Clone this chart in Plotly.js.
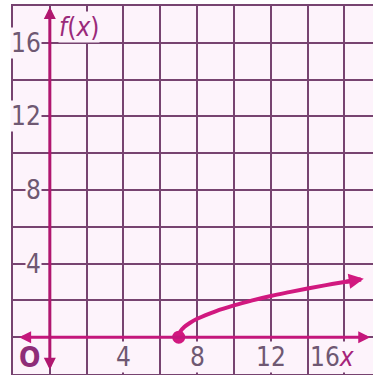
<!DOCTYPE html>
<html>
<head>
<meta charset="utf-8">
<script src="https://cdn.plot.ly/plotly-3.0.1.min.js"></script>
<style>
  html, body { margin: 0; padding: 0; background: #ffffff; }
  #chart { width: 373px; height: 375px; }
</style>
</head>
<body>
<div id="chart"></div>
<script>
// Graph of f(x): a square-root curve starting at (7, 0)
const curveX = [7, 7.1, 7.3, 7.6, 8, 9, 10, 11, 12, 13, 14, 15, 16, 16.9];
const curveY = [0, 0.32, 0.55, 0.77, 1, 1.41, 1.73, 2, 2.24, 2.45, 2.65, 2.83, 3, 3.14];

// Closed endpoint
const startX = [7];
const startY = [0];

// Arrow tip where the curve keeps going
const tipX = [17.05];
const tipY = [3.17];

// Axis labels
const xTickVals = [4, 8, 12];
const xTickText = ['4', '8', '12'];
const yTickVals = [4, 8, 12, 16];
const yTickText = ['4', '8', '12', '16'];

const gridColor = '#774370';
const bg = '#fdf3fb';
const labelColor = '#6f5872';
const magenta = '#c4177c';
const axisMagenta = '#b0166f';
const curveColor = '#d1187f';
const labelFont = { family: 'Liberation Sans Narrow, Arial Narrow, DejaVu Sans Condensed, sans-serif', size: 26, color: labelColor };

const traces = [
  {
    x: curveX, y: curveY, type: 'scatter', mode: 'lines',
    line: { color: curveColor, width: 4, shape: 'spline' },
    hoverinfo: 'skip'
  },
  {
    x: startX, y: startY, type: 'scatter', mode: 'markers',
    marker: { color: curveColor, size: 13 },
    hoverinfo: 'skip'
  }
];

const annotations = [];

// x-axis with arrows on both ends
annotations.push({
  x: 17.4, y: 0, ax: -1.75, ay: 0, xref: 'x', yref: 'y', axref: 'x', ayref: 'y',
  text: '', showarrow: true, arrowside: 'end+start', arrowhead: 2, arrowsize: 0.8,
  arrowwidth: 3, arrowcolor: magenta, standoff: 0, startstandoff: 0
});
// y-axis with arrows on both ends
annotations.push({
  x: 0, y: 17.95, ax: 0, ay: -1.85, xref: 'x', yref: 'y', axref: 'x', ayref: 'y',
  text: '', showarrow: true, arrowside: 'end+start', arrowhead: 2, arrowsize: 0.8,
  arrowwidth: 3, arrowcolor: axisMagenta, standoff: 0, startstandoff: 0
});
// arrowhead at the end of the curve
annotations.push({
  x: tipX[0], y: tipY[0], ax: curveX[curveX.length - 2], ay: curveY[curveY.length - 2],
  xref: 'x', yref: 'y', axref: 'x', ayref: 'y',
  text: '', showarrow: true, arrowhead: 2, arrowsize: 0.75,
  arrowwidth: 4, arrowcolor: curveColor, standoff: 0
});

// y tick labels, just left of the y-axis
yTickVals.forEach((v, i) => {
  annotations.push({
    x: 0, y: v, xref: 'x', yref: 'y', xanchor: 'right', yanchor: 'middle', xshift: -8,
    text: yTickText[i], showarrow: false, font: labelFont,
    bgcolor: bg, borderpad: 0
  });
});

// x tick labels, below the x-axis
xTickVals.forEach((v, i) => {
  annotations.push({
    x: v, y: -1.08, xref: 'x', yref: 'y', xanchor: 'center', yanchor: 'middle',
    text: xTickText[i], showarrow: false, font: labelFont,
    bgcolor: bg, borderpad: 0
  });
});

// "16" followed by the x-axis name
annotations.push({
  x: 16, y: -1.08, xref: 'x', yref: 'y', xanchor: 'center', yanchor: 'middle', xshift: -12,
  text: '16<span style="color:#a5237a"><i>x</i></span>', showarrow: false, font: labelFont,
  bgcolor: bg, borderpad: 0
});

// origin
annotations.push({
  x: -1.08, y: -1.1, xref: 'x', yref: 'y', xanchor: 'center', yanchor: 'middle',
  text: '<b>O</b>', showarrow: false,
  font: { family: labelFont.family, size: 28, color: '#8e2d78' }
});

// f(x) name of the vertical axis
annotations.push({
  x: 1.58, y: 16.85, xref: 'x', yref: 'y', xanchor: 'center', yanchor: 'middle',
  text: '<i>f</i>(<i>x</i>)', showarrow: false,
  font: { family: labelFont.family, size: 26, color: '#9a2a7a' },
  bgcolor: bg, borderpad: 0
});

const axisCommon = {
  dtick: 2, tick0: 0, showgrid: true, gridcolor: gridColor, gridwidth: 2,
  showline: true, linecolor: gridColor, linewidth: 2,
  zeroline: false, showticklabels: false, ticks: '', fixedrange: true
};

const layout = {
  width: 373, height: 375,
  margin: { l: 13, r: 0, t: 6, b: 1, pad: 0 },
  paper_bgcolor: '#ffffff',
  plot_bgcolor: bg,
  showlegend: false,
  xaxis: Object.assign({}, axisCommon, { range: [-2, 17.55], mirror: true }),
  yaxis: Object.assign({}, axisCommon, { range: [-2, 18], mirror: false }),
  annotations: annotations
};

Plotly.newPlot('chart', traces, layout, { displayModeBar: false, staticPlot: true });
</script>
</body>
</html>
